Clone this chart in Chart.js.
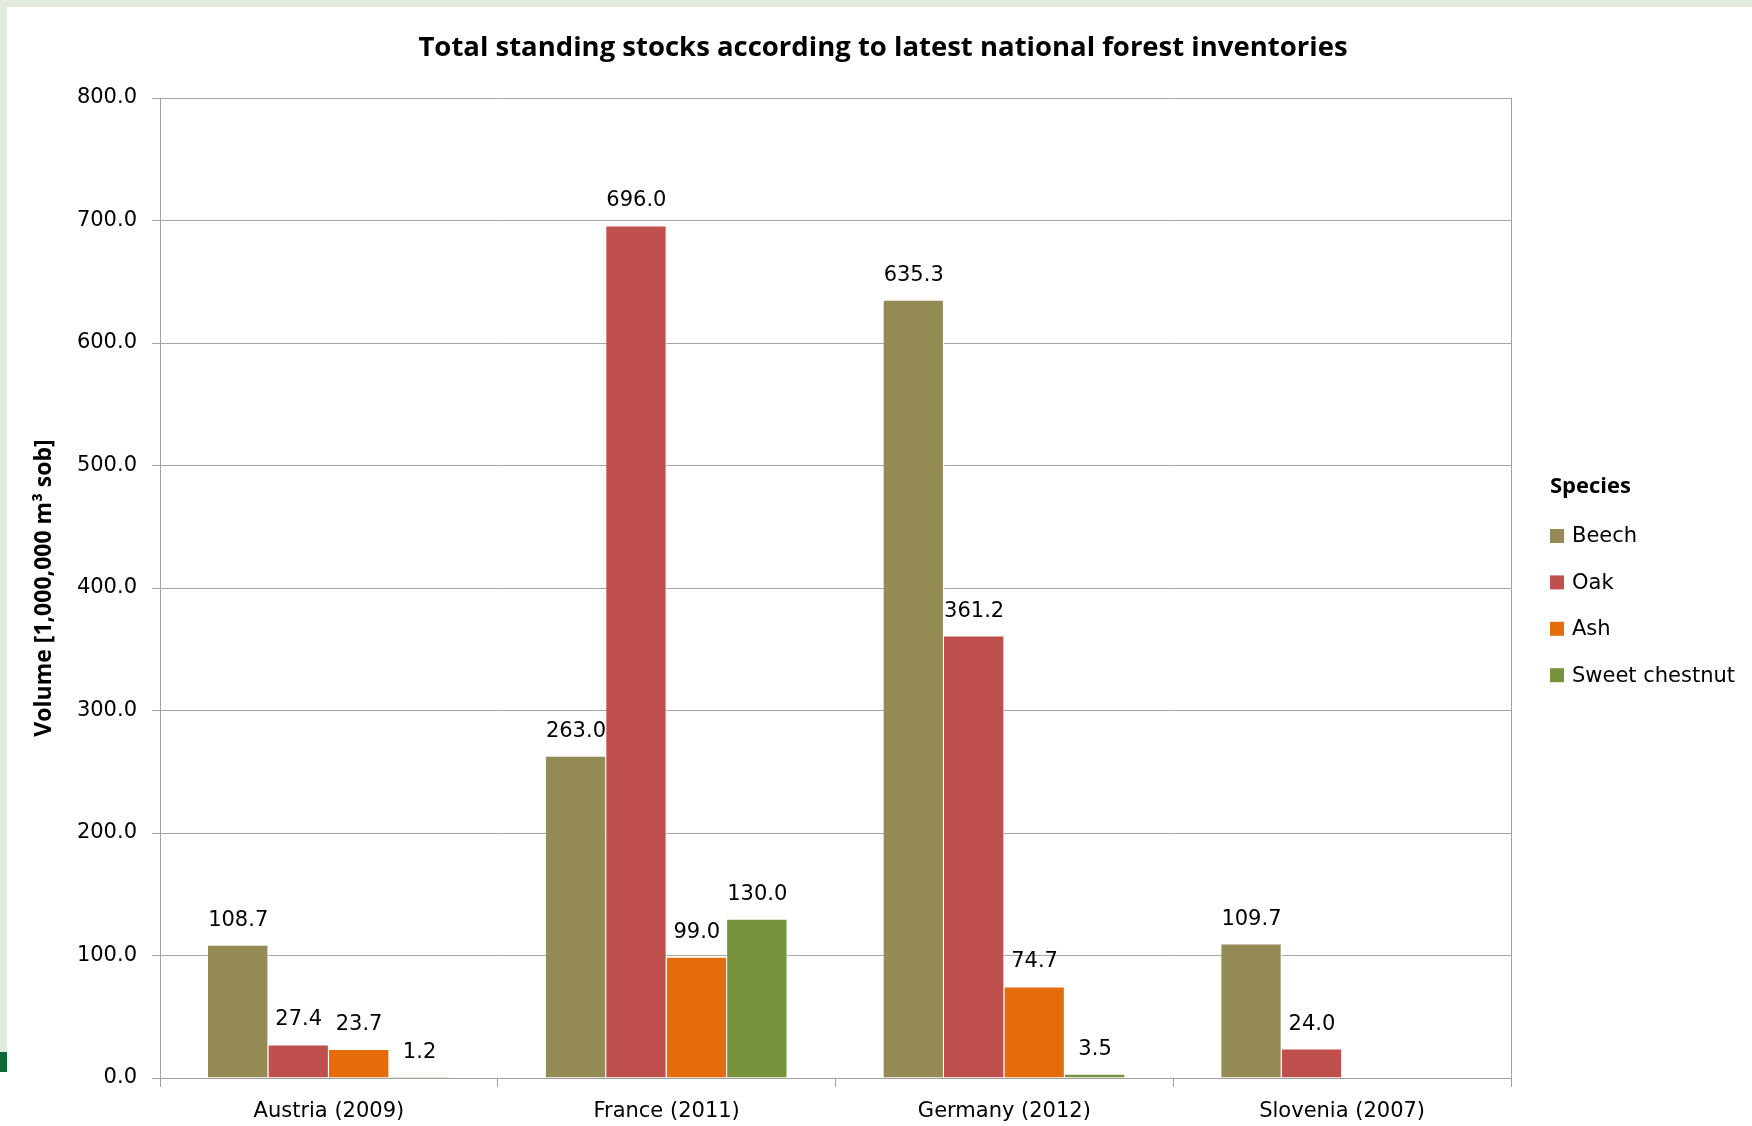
<!DOCTYPE html>
<html>
<head>
<meta charset="utf-8">
<script src="https://cdn.jsdelivr.net/npm/chart.js@4/dist/chart.umd.min.js"></script>
<style>
  html, body { margin: 0; padding: 0; background: #ffffff; }
  #wrap { width: 1752px; height: 1126px; position: relative; }
  canvas { display: block; }
</style>
</head>
<body>
<div id="wrap"><canvas id="chart" width="1752" height="1126"></canvas></div>
<script>
// Standing stock per species and country, in 1,000,000 m³ over bark
const categories = ['Austria (2009)', 'France (2011)', 'Germany (2012)', 'Slovenia (2007)'];
const speciesNames = ['Beech', 'Oak', 'Ash', 'Sweet chestnut'];
const beech = [108.7, 263.0, 635.3, 109.7];
const oak = [27.4, 696.0, 361.2, 24.0];
const ash = [23.7, 99.0, 74.7, null];
const sweetChestnut = [1.2, 130.0, 3.5, null];
const speciesColors = ['#948A54', '#C0504D', '#E46C0A', '#77933C'];

const LABEL_FONT = 'DejaVu Sans';
const BOLD_FONT = 'Open Sans';

// Page frame: light green band at top and left, small dark green marker
const framePlugin = {
  id: 'frame',
  beforeDraw(chart) {
    const ctx = chart.ctx;
    ctx.save();
    ctx.fillStyle = '#ffffff';
    ctx.fillRect(0, 0, chart.width, chart.height);
    ctx.fillStyle = '#e2eadf';
    ctx.fillRect(0, 0, chart.width, 7);
    ctx.fillRect(0, 0, 7, 1052);
    ctx.fillStyle = '#0b6b36';
    ctx.fillRect(0, 1052, 7, 20);
    ctx.restore();
  }
};

// Value printed above each bar
const valueLabels = {
  id: 'valueLabels',
  afterDatasetsDraw(chart) {
    const ctx = chart.ctx;
    ctx.save();
    ctx.font = '21px "' + LABEL_FONT + '"';
    ctx.fillStyle = '#000000';
    ctx.textAlign = 'center';
    ctx.textBaseline = 'alphabetic';
    chart.data.datasets.forEach((ds, di) => {
      const meta = chart.getDatasetMeta(di);
      meta.data.forEach((bar, i) => {
        const v = ds.data[i];
        if (v === null || v === undefined) return;
        ctx.fillText(v.toFixed(1), bar.x, bar.y - 19);
      });
    });
    ctx.restore();
  }
};

// Species key in the space right of the plot
const speciesKey = {
  id: 'speciesKey',
  afterDraw(chart) {
    const ctx = chart.ctx;
    const x0 = chart.chartArea.right + 39;
    ctx.save();
    ctx.fillStyle = '#000000';
    ctx.textAlign = 'left';
    ctx.textBaseline = 'middle';
    ctx.font = 'bold 22px "' + BOLD_FONT + '"';
    ctx.fillText('Species', x0, 487);
    ctx.font = '21px "' + LABEL_FONT + '"';
    chart.data.datasets.forEach((ds, i) => {
      const cy = 536 + i * 46.4;
      ctx.fillStyle = ds.backgroundColor;
      ctx.fillRect(x0, cy - 7, 14, 14);
      ctx.fillStyle = '#000000';
      ctx.fillText(ds.label, x0 + 22, cy + 1);
    });
    ctx.restore();
  }
};

const seriesValues = [beech, oak, ash, sweetChestnut];
const datasets = seriesValues.map((vals, i) => ({
  label: speciesNames[i],
  data: vals,
  backgroundColor: speciesColors[i],
  borderColor: '#ffffff',
  borderWidth: { top: 1, right: 1, left: 0, bottom: 0 },
  borderSkipped: 'bottom',
  categoryPercentage: 0.716,
  barPercentage: 1.0
}));

new Chart(document.getElementById('chart'), {
  type: 'bar',
  data: { labels: categories, datasets: datasets },
  plugins: [framePlugin, valueLabels, speciesKey],
  options: {
    responsive: false,
    animation: false,
    devicePixelRatio: 1,
    layout: { padding: { left: 14, right: 0, top: 0, bottom: 0 } },
    plugins: {
      legend: { display: false },
      tooltip: { enabled: false },
      title: {
        display: true,
        text: 'Total standing stocks according to latest national forest inventories',
        color: '#000000',
        font: { family: BOLD_FONT, size: 27.5, weight: 'bold' },
        padding: { top: 31.5, bottom: 33.5 }
      }
    },
    scales: {
      x: {
        grid: {
          display: true,
          drawOnChartArea: false,
          drawTicks: true,
          tickLength: 9,
          offset: true,
          color: '#a0a0a0'
        },
        border: { display: true, color: '#a0a0a0', width: 1 },
        ticks: {
          color: '#000000',
          font: { family: LABEL_FONT, size: 21 },
          padding: 12,
          maxRotation: 0,
          autoSkip: false
        },
        afterFit(scale) { scale.height = 48; }
      },
      y: {
        min: 0,
        max: 800,
        ticks: {
          stepSize: 100,
          color: '#000000',
          font: { family: LABEL_FONT, size: 21 },
          padding: 15,
          callback: (v) => Number(v).toFixed(1)
        },
        grid: { color: '#a6a6a6', tickLength: 8, lineWidth: 1 },
        border: { display: true, color: '#a0a0a0', width: 1 },
        title: {
          display: true,
          text: 'Volume [1,000,000 m³ sob]',
          color: '#000000',
          font: { family: BOLD_FONT, size: 23, weight: 'bold' },
          padding: { top: 17, bottom: 0 }
        },
        afterFit(scale) { scale.width = 146; }
      },
      frameRight: {
        type: 'linear',
        position: 'right',
        min: 0,
        max: 800,
        ticks: { display: false },
        grid: { display: false, drawTicks: false },
        border: { display: true, color: '#a0a0a0', width: 1 },
        afterFit(scale) { scale.width = 241; }
      }
    }
  }
});
</script>
</body>
</html>
